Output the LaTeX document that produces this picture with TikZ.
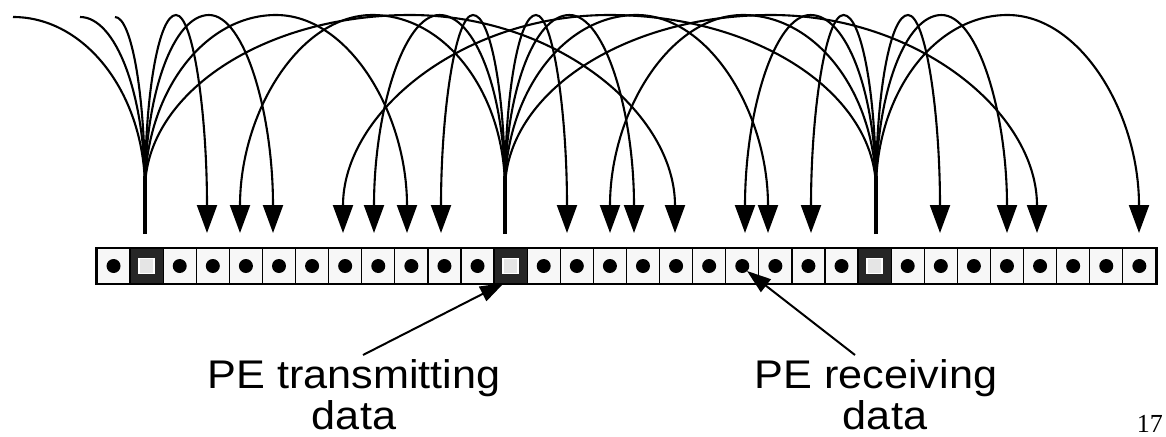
\documentclass[tikz,border=0pt]{standalone}
\usepackage{fontspec}
\setmainfont{Liberation Sans}
\newfontfamily\lblfont{Liberation Sans}[FakeStretch=1.08]
\newfontfamily\serifnum{Liberation Serif}
\usetikzlibrary{arrows.meta,calc}
\tikzset{
  arcline/.style={line width=2.1pt},
  arrowline/.style={arcline, -{Triangle[width=20pt,length=28pt]}},
  cell/.style={draw, line width=1.2pt, fill=gray!6, minimum width=33.09pt, minimum height=35pt, inner sep=0pt},
  tcell/.style={cell, fill=black!85},
  pedot/.style={circle, fill=black, minimum size=14pt, inner sep=0pt},
  tmark/.style={rectangle, fill=gray!20, draw=white, line width=1.3pt, minimum size=15pt, inner sep=0pt},
  stub/.style={line width=3.4pt},
  lbl/.style={font=\lblfont\fontsize{40}{41}\selectfont, align=center, inner sep=0pt, anchor=north},
  pointer/.style={line width=2pt, -{Triangle[width=16pt,length=24pt]}},
}
\newcommand\Top{-15pt}
\newcommand\arch[2]{%
  \draw[arrowline] let \p1=(#1), \p2=(#2), \n1={(\x1+\x2)/2} in
   (#1) .. controls (\x1,{(\y1)+0.5523*(\Top-(\y1))}) and ({\n1-0.5523*(\n1-(\x1))},\Top) .. ({\n1*1pt},\Top)
   .. controls ({\n1+0.5523*((\x2)-\n1)},\Top) and (\x2,{(\y2)+0.5523*(\Top-(\y2))}) .. (#2);}
\newcommand\halfarch[2]{%
  \draw[arcline] let \p1=(#1), \p2=(#2) in
   (#1) .. controls (\x1,{(\y1)+0.5523*((\y2)-(\y1))}) and ({(\x2)+0.5523*((\x1)-(\x2))},\y2) .. (#2);}
\begin{document}
\begin{tikzpicture}[x=1pt,y=-1pt]
\useasboundingbox (0,0) rectangle (1166,436);
% PE strip
\foreach \i in {1,...,32} {
  \node[cell] (c\i) at ({97+(\i-0.5)*33.09},266) {};
}
\foreach \i in {2,13,24} {
  \node[tcell] at (c\i) {};
  \node[tmark] at (c\i) {};
}
\foreach \i in {1,3,4,5,6,7,8,9,10,11,12,14,15,16,17,18,19,20,21,22,23,25,26,27,28,29,30,31,32} {
  \node[pedot] at (c\i) {};
}
\draw[line width=2.6pt] (c1.north west) rectangle (c32.south east);
% fan sources
\coordinate (f1) at (145,190);
\coordinate (f2) at (505,190);
\coordinate (f3) at (876,190);
\coordinate (b1) at (145,234);
\coordinate (b2) at (505,234);
\coordinate (b3) at (876,234);
\foreach \b in {b1,b2,b3} { \draw[stub] (\b) -- ++(0,-58); }
% targets
\foreach \t in {207,240,273,343,374,407,441,567,610,634,675,745,768,811,940,1007,1037,1139} {
  \coordinate (r\t) at (\t,233);
}
% left apices (arcs leaving picture)
\coordinate (a13) at (13,17);
\coordinate (a80) at (80,17);
\coordinate (a115) at (115,17);
\halfarch{f1}{a13}
\halfarch{f1}{a80}
\halfarch{f1}{a115}
% transmitter 1
\arch{f1}{r207}
\arch{f1}{r273}
\arch{f1}{r407}
\arch{f1}{r675}
% transmitter 2
\arch{f2}{r240}
\arch{f2}{r374}
\arch{f2}{r441}
\arch{f2}{r567}
\arch{f2}{r634}
\arch{f2}{r768}
\arch{f2}{r1037}
% transmitter 3
\arch{f3}{r343}
\arch{f3}{r610}
\arch{f3}{r745}
\arch{f3}{r811}
\arch{f3}{r940}
\arch{f3}{r1007}
\arch{f3}{r1139}
% labels
\node[lbl] (tx) at (354,359) {PE transmitting\\data};
\node[lbl] (rx) at (876,359) {PE receiving\\\hspace*{18pt}data};
\coordinate (ttail) at (363,355);
\coordinate (ttip) at (504,283);
\coordinate (rtail) at (855,355);
\coordinate (rtip) at (747,271);
\draw[pointer] (ttail) -- (ttip);
\draw[pointer] (rtail) -- (rtip);
\node[font=\serifnum\fontsize{26}{28}\selectfont, anchor=base east, inner sep=0pt] (pg) at (1163,432) {17};
\end{tikzpicture}
\end{document}
